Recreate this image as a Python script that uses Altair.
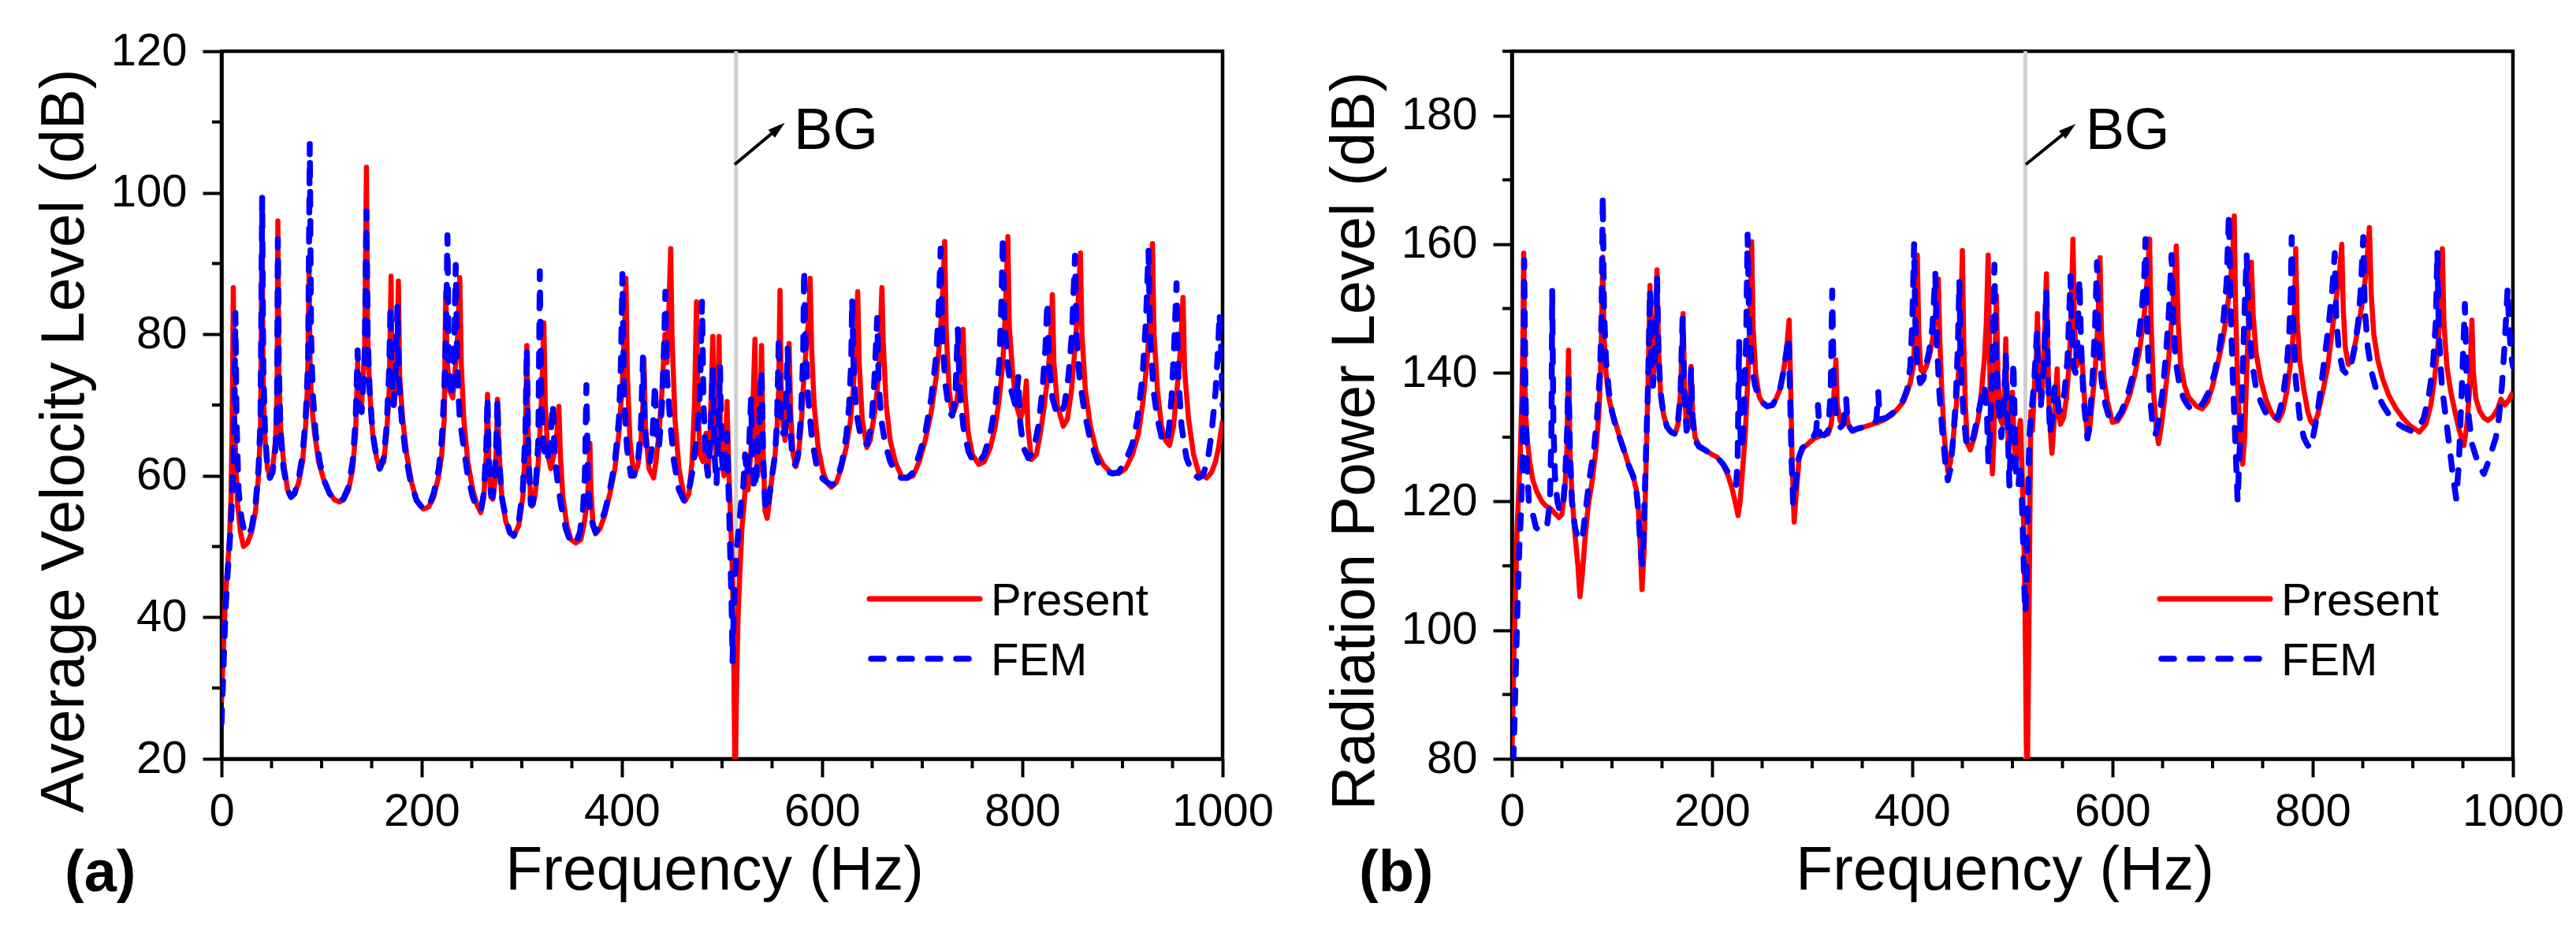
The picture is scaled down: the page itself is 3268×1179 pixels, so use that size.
import altair as alt
import pandas as pd

# ---------------- data ----------------
# Panel (a): average velocity level (dB) vs frequency (Hz)
A_PRESENT = [
    (0, 28), (2, 36), (4, 43), (6, 47), (8, 51), (9.5, 57), (10.5, 66), (11.8, 86.6), (12.8, 70),
    (14, 63), (16, 56), (19, 52), (22, 50), (26, 50.5), (30, 52), (34, 55), (37, 60), (39, 67),
    (40.5, 97), (41.5, 75), (43, 66), (46, 61), (48.4, 60), (51, 61), (54, 65), (55.5, 72),
    (56.3, 96), (57.3, 75), (59, 67), (62, 62), (66, 58), (69.4, 57), (73, 57.5), (77, 59),
    (81, 62), (84, 67), (86, 73), (87.5, 89), (88.5, 76), (90, 70), (93, 66), (97, 62),
    (102, 59.5), (108, 57.5), (113, 56.6), (117.8, 56.3), (122, 56.6), (127, 58), (131, 61),
    (134, 66), (136, 76), (137, 70), (140, 70), (143, 78), (144.8, 103.6), (146, 80), (148, 72),
    (151, 66), (155, 62.5), (158, 61), (162, 62), (165, 66), (167.5, 72), (169.4, 88.2),
    (170.5, 72), (172.5, 70), (175, 74), (176.7, 87.5), (178, 74), (181, 68), (185, 63),
    (190, 59), (195, 56.5), (201.6, 55.3), (207, 55.6), (212, 57), (217, 60), (220, 63),
    (222.5, 68), (224, 86), (225.5, 76), (228, 72), (231, 71), (234, 76), (236, 80), (238, 88),
    (239.5, 76), (242, 68), (246, 62), (251, 58), (255, 56), (259, 54.8), (262, 57), (264.5, 63),
    (265.7, 71.5), (267, 62), (269, 57), (271, 56.7), (273, 59), (274.8, 65), (275.7, 70.8),
    (277, 64), (280, 57), (284, 53.5), (288, 52), (292, 51.5), (297, 53), (301, 57), (303.5, 64),
    (305, 78.4), (306.5, 64), (309, 56), (310, 55.7), (313, 57), (316, 61), (318, 66), (320, 72),
    (322, 81.6), (323.5, 70), (326, 63), (329, 61), (332, 63), (335, 66), (337, 69.8),
    (338.5, 63), (341, 57), (345, 53), (349, 51), (354, 50.5), (359, 51), (362, 53), (365, 56),
    (367, 60), (368, 64.6), (369, 58), (371, 53.5), (373.7, 51.8), (378, 52.5), (383, 54.5),
    (388, 57.5), (393, 61), (397, 66), (400, 72), (402.5, 80), (404, 87.9), (405.5, 74),
    (408, 65), (412, 60), (416, 61.5), (419, 65), (421, 70), (422, 76.4), (423.5, 67), (427, 61),
    (431.6, 59.7), (434, 62), (437, 66), (440, 72), (443, 80), (445, 76), (447, 84),
    (448.7, 92.1), (450, 80), (453, 68), (457, 61), (463, 56.4), (467, 57.5), (470, 62),
    (472.5, 70), (474.5, 84.6), (476, 70), (478, 63), (481, 62), (484, 66), (486, 60), (488, 66),
    (490.8, 79.7), (492.5, 66), (494, 63), (495.5, 68), (497, 79.7), (498.5, 65), (500, 62),
    (502, 60), (504, 66), (505, 70.5), (506.5, 62), (508, 56), (510, 48), (511.5, 38), (513, 15),
    (514.5, 30), (516, 40), (518, 47), (520, 52.8), (522, 56), (524, 60), (526, 58), (528, 62),
    (530, 66), (532.9, 79.3), (534, 66), (535.5, 60), (537, 62), (539.5, 78.4), (541, 64),
    (543, 55), (545, 54), (547, 56), (550, 60), (553, 63), (555, 67), (556.5, 72), (557.9, 86.2),
    (559, 73), (561, 67), (563, 65), (565, 68), (567, 78.7), (568.5, 69), (571, 63),
    (573.7, 61.3), (576, 62.5), (579, 67), (581, 72), (583, 76), (585, 80), (586.5, 82),
    (588, 87.9), (589.5, 78), (592, 70), (596, 64), (601, 60.5), (605, 59), (609, 58.4),
    (614, 59), (619, 61), (624, 64), (628, 67.5), (631, 72), (633.5, 78), (635.5, 86), (637, 76),
    (640, 68), (644.7, 64), (648, 65), (652, 68.5), (655, 72), (657.5, 77), (659.7, 86.6),
    (661, 79), (664, 70), (668, 65), (673, 62), (679, 60), (685.5, 59.7), (691, 60), (697, 62),
    (703, 65), (709, 69), (714, 74), (718, 80), (720.5, 86), (722.4, 93.1), (724, 80), (727, 72),
    (730, 68.5), (734, 70), (737.5, 74), (740.8, 80.7), (742.5, 72), (746, 66), (750, 63),
    (756.6, 61.6), (762, 62), (768, 64), (773, 67), (777, 71), (780.5, 76), (783, 83),
    (785.5, 93.8), (787, 81), (790, 75), (794, 70), (798, 68), (802, 70), (804, 73.4),
    (805.5, 67), (809, 62.3), (814, 63), (818, 66), (822, 70), (826, 75), (828.5, 80),
    (830, 85.6), (831.5, 76), (835, 70), (840.8, 67), (845, 68), (849, 72), (852.5, 78),
    (855.5, 84), (858, 91.5), (859.5, 80), (863, 72), (868, 67), (874, 63.5), (881, 61.5),
    (888, 60.5), (896, 60.3), (903, 61), (910, 63), (916, 66), (921, 71), (925, 77), (928, 84),
    (930, 92.8), (931.5, 80), (935, 72), (939, 67), (943, 65), (947, 64.3), (951, 67), (955, 73),
    (958, 78), (960.5, 85.2), (962, 75), (966, 68), (971, 63), (976, 60.5), (984, 59.7),
    (989, 60.5), (993, 62), (996, 64), (1000, 67.8),
]

A_FEM = [
    (0, 25), (2, 33), (4, 41), (6, 46), (8, 50), (10, 55), (12, 62), (13, 70), (13.9, 83),
    (15, 68), (17, 58), (20, 54), (23, 52), (26, 51.5), (30, 52.5), (34, 56), (37, 61), (39, 68),
    (40.6, 99.3), (41.8, 75), (43.5, 66), (46, 61), (48.4, 59.7), (51, 60.5), (54, 64),
    (55.5, 70), (56.3, 93.4), (57.3, 75), (59, 66), (62, 61), (66, 58), (69.4, 57), (73, 57.5),
    (77, 59.5), (81, 63), (84, 68), (86.5, 76), (88.2, 106.9), (89.5, 80), (91, 72), (94, 66),
    (98, 62), (102, 59.5), (108, 57.5), (113, 56.6), (117.8, 56.3), (122, 56.8), (127, 58.5),
    (131, 62), (134, 68), (136, 77.7), (137.5, 70), (140, 69), (143, 76), (144.8, 97.4),
    (146, 80), (148, 72), (151, 66), (155, 62.5), (158, 61), (162, 62.5), (165, 67),
    (167.5, 75), (168.8, 84), (170, 74), (172, 70), (174, 75), (175.8, 84), (177, 74), (180, 68),
    (184, 63), (189, 59), (195, 56.5), (201.6, 55.3), (207, 55.6), (212, 57.5), (217, 61),
    (220, 65), (222.5, 72), (224.5, 82), (225.7, 94), (227, 76), (229.5, 71), (232, 75),
    (234, 89.8), (235.5, 75), (238, 68), (242, 64), (246, 60), (251, 57), (255, 55.5), (259, 55),
    (262, 57.5), (264.5, 64), (265.7, 71.1), (267, 62), (269, 57.5), (271, 57), (273, 60),
    (274.8, 66), (275.7, 70.8), (277, 63), (280, 57), (284, 54), (288, 52), (292, 51.5),
    (297, 53.5), (301, 58), (303.5, 66), (305, 78), (306.5, 63), (309, 56), (311, 56), (314, 59),
    (316.5, 65), (318, 88.9), (319.5, 70), (322, 64), (325, 62), (328, 64), (331, 70.2),
    (332.5, 64), (335, 60), (339, 56), (344, 52.5), (349, 50.5), (354, 50.5), (358, 52),
    (361, 55), (363, 60), (364.5, 72.8), (366, 60), (368, 55), (371, 53), (373.7, 52), (378, 53),
    (383, 55), (388, 58), (393, 62), (397, 68), (399, 76), (400.5, 88.5), (402, 72), (405, 64),
    (409, 60), (412, 60), (416, 62), (419, 67), (421, 76.7), (422.5, 68), (425, 63), (428, 62),
    (430, 64), (433, 73), (434.5, 66), (437, 64), (440, 70), (442, 78), (443.4, 86), (445, 74),
    (448, 68), (452, 62), (457, 58), (462, 56.5), (467, 58), (471, 61), (475, 66), (478, 72),
    (480, 84.6), (481.5, 70), (484, 62), (486, 60), (488, 64), (490.8, 75), (492.5, 63),
    (494.5, 58.7), (496, 65), (498, 75.4), (499.5, 64), (501, 60), (503, 62), (505, 66),
    (506.5, 58), (508, 50), (509.5, 42), (510.5, 33.8), (511.5, 40), (513, 46), (515, 50),
    (517, 53), (519, 56), (521, 58), (523, 63), (525, 60), (527, 64), (529, 71), (530.5, 62),
    (532, 58), (534, 60), (536, 64), (539.5, 75), (541, 63), (543, 56), (545, 55), (547, 57),
    (550, 60), (553, 63), (555, 68), (556.7, 79.7), (558, 70), (561, 66), (563, 66),
    (565.5, 78), (567, 70), (570, 63), (573, 61.5), (576, 63), (579, 69), (581, 77),
    (582, 89.2), (583.5, 78), (586, 71), (590, 65), (595, 61), (601, 59.5), (606, 59),
    (610, 58.7), (615, 59.5), (620, 62), (624, 65.5), (627, 70), (629, 76), (630, 85),
    (631.5, 75), (634, 69), (638, 66), (642, 64.5), (645, 64.5), (649, 67), (652, 73),
    (655, 82.3), (656.5, 73), (659, 68), (663, 64.5), (668, 62), (673, 60.5), (679, 59.7),
    (685, 59.7), (691, 60.5), (697, 63), (703, 66), (709, 71), (714, 77), (716.5, 84),
    (718.4, 92.1), (720, 80), (723, 73), (727, 69), (730, 68.5), (733, 71), (735.5, 80.7),
    (737.5, 72), (741, 67), (746, 63.5), (751, 62), (756, 61.8), (762, 63), (768, 66), (773, 70),
    (777, 76), (779, 84), (780.5, 93.8), (782, 82), (785, 76), (789, 72), (793, 70), (796, 74),
    (797.5, 68), (801, 64), (806, 62.5), (811, 63.5), (816, 67), (820, 72), (823, 78),
    (825, 84.6), (826.5, 76), (830, 71), (834, 69), (838, 68.5), (842, 70), (846, 74),
    (849.5, 80), (852.6, 91.1), (854, 80), (857, 74), (862, 69), (868, 65), (875, 62),
    (883, 60.7), (890, 60.3), (896, 60.5), (903, 62), (910, 64.5), (915, 68), (920, 74),
    (923.5, 82), (926, 91.8), (927.5, 80), (931, 72), (935, 68), (939, 65.5), (943, 64.6),
    (946, 66), (949, 71), (951.5, 78), (954, 87.2), (955.5, 75), (959, 67), (964, 62.5),
    (970, 60.3), (976, 59.7), (980, 60), (985, 62), (989, 66), (993, 72), (995.5, 78), (997, 83),
    (998.5, 78), (1000, 70),
]

# Panel (b): radiation power level (dB) vs frequency (Hz)
B_PRESENT = [
    (0, 80), (1, 88), (2, 96), (3.5, 105), (5.3, 116), (7, 122), (8.5, 128), (10, 136), (11, 145),
    (11.8, 158.6), (12.8, 140), (14, 133), (15.8, 129), (18, 126), (21, 123.3), (25, 121.5),
    (30, 120), (34, 119.3), (38, 119), (41, 118.5), (44, 118), (47, 117.5), (50, 118), (53, 122),
    (55, 128), (56.6, 143.5), (58, 128), (60, 121), (63, 115), (66, 110), (68, 105.2), (70, 108),
    (73, 114), (76, 119), (80, 123), (84, 128), (87, 134), (89, 142), (90.8, 158), (92, 146),
    (94, 140), (97, 136), (100, 134), (104, 132), (108, 129.8), (113, 127.5), (117, 125.5),
    (121, 124), (124, 122), (126, 119.7), (128, 114), (130, 106.3), (132, 112), (134, 125),
    (136, 138), (138, 153.6), (139.5, 142), (141, 139), (143, 143), (145, 156), (146.5, 144),
    (148.5, 137), (151.5, 133.5), (155, 131.6), (159, 130.8), (163, 130.5), (166, 132),
    (168.5, 137), (171, 149.2), (172.5, 138), (174.5, 131), (176.5, 132), (178, 136), (179, 141),
    (180.5, 134), (183, 130), (187, 128.7), (193, 128), (200, 127.3), (205, 126.9),
    (211, 125.8), (216, 124), (220, 122), (223, 120), (226, 117.8), (228, 120), (230, 124),
    (233, 130), (236, 140), (238, 150), (239.5, 160.4), (241, 147), (243.5, 140), (247, 136.3),
    (251, 135.2), (255, 134.8), (260.5, 135), (264, 136), (268, 137.5), (271, 140), (274, 143),
    (277, 148.2), (278.5, 138), (280, 126), (282, 116.8), (284, 121), (287, 126.9),
    (291, 128.3), (296, 129), (302, 129.8), (308, 130.2), (316, 130.5), (319, 132),
    (321.5, 136), (323.7, 142), (325, 135), (328, 132.5), (331, 132), (334, 134), (336, 132),
    (340, 131), (345, 131.3), (352, 131.6), (360, 132), (366, 132.3), (372, 132.7),
    (380, 133.5), (386, 134.5), (391, 135.5), (395, 137), (398, 138.5), (401, 141), (403, 147),
    (405, 158.3), (406.5, 146), (408.5, 140.5), (411, 140), (414, 141), (417, 142.5), (420, 145),
    (422.5, 148), (424.5, 151), (426, 154.6), (427.5, 145), (429.5, 137), (432, 130),
    (435.5, 124.7), (438, 126), (441, 130), (444, 135), (446.5, 141), (448.5, 148), (450, 159),
    (451.5, 144), (453, 135), (455, 129), (458, 128), (462, 130), (466, 133), (469, 137),
    (472, 142), (474, 148), (475.8, 158.3), (477, 145), (478.5, 130), (480, 124.3),
    (481.5, 130), (483, 145), (484, 152), (485.5, 140), (487.5, 133), (490, 132), (492, 137),
    (493.4, 145.3), (494.5, 136), (496, 128), (498, 130), (500, 137), (501.5, 130), (503, 126),
    (505, 127), (506.5, 131), (508, 132.6), (509.5, 125), (511, 118), (512.5, 105), (514, 82),
    (515, 78), (516.5, 100), (518.4, 134), (520, 131), (522, 138), (524, 143), (525, 149.2),
    (526.5, 140), (528, 136), (530, 138), (532, 145), (534, 155.4), (535.5, 142), (537, 133),
    (539.5, 127.5), (541.5, 132), (543, 136), (544.7, 140.6), (546, 134), (548, 132),
    (551, 133), (554, 136), (556.5, 141), (558.5, 148), (560.5, 160.8), (562, 148), (564, 141),
    (566, 142), (568, 144), (570, 141), (572, 136), (575, 129.8), (577, 131), (580, 136),
    (583, 141), (585.5, 148), (587.5, 157.9), (589, 146), (591.5, 139), (595, 135.5),
    (600, 132.3), (605, 132.5), (611, 134), (617, 136.5), (622, 139.5), (627, 143.5), (631, 148),
    (634, 153), (637, 160.8), (638.5, 148), (641, 137), (644, 131), (646, 129), (649, 132),
    (652, 136), (655.5, 141), (659, 148), (661.5, 153), (663.7, 159.7), (665.5, 148),
    (668, 141.3), (672, 138), (676, 136.2), (680, 135.5), (684, 134.8), (689.5, 134.4),
    (695, 135.5), (700, 138), (705, 141.3), (710, 145), (714, 149), (717.5, 154), (720, 158),
    (721.6, 164.4), (723, 150), (725, 138), (727.5, 130), (730, 125.8), (732, 130), (734, 140),
    (736.5, 150), (738.7, 157.2), (740.5, 149), (743.5, 143), (748, 139), (753, 136), (758, 134),
    (762, 133), (765.8, 132.6), (770, 134), (774, 137), (777, 140.5), (780, 145), (782, 150.5),
    (783, 159.3), (784.5, 148), (787, 142), (791, 137.5), (795, 134), (798, 132.5),
    (801, 131.9), (805, 133.5), (810, 137), (815, 141), (819, 146), (823, 151), (826.5, 155),
    (829, 160), (830.5, 150), (832.5, 144), (835.5, 141.3), (839, 142), (843, 145),
    (847, 148.5), (851, 152.5), (854, 157), (856.6, 162.6), (858.5, 152), (861, 146), (865, 142),
    (870, 139), (876, 136.5), (883, 134.5), (890, 133), (897, 131.8), (906.6, 130.8), (913, 132),
    (918, 135), (922, 139.5), (925.5, 145), (928, 152), (929.5, 159.3), (931, 148), (934, 141),
    (938, 137), (942, 134), (946.5, 131), (951, 128.7), (954, 132), (956.5, 137), (959, 148.2),
    (960.5, 140), (963, 136), (967, 134), (971, 133), (975, 132.6), (980, 133.2), (985, 134.5),
    (988, 135.9), (992, 135), (996, 135.8), (1000, 137),
]

B_FEM = [
    (0, 75), (1.5, 80), (3, 88), (4.5, 97), (6, 106), (7.5, 113), (9, 118), (10.5, 125),
    (11.5, 140), (12.3, 157.5), (13.5, 138), (15, 126), (17, 120), (19, 118.5), (21, 118),
    (24, 116), (27, 115.5), (31, 115.6), (35, 116), (38, 120), (39.5, 130), (40.3, 152.8),
    (41.5, 132), (43, 124), (45.5, 120), (48, 118.5), (51, 119), (53, 123), (55, 130),
    (56.6, 139), (58, 128), (60, 120), (63, 116), (66, 114.2), (68.4, 113.9), (71, 115),
    (74, 119), (78, 124), (82, 128), (85, 133), (88, 140), (89.5, 148), (90.8, 167.6), (92, 150),
    (94, 142), (97, 137), (100, 134), (104, 131.5), (108, 129.8), (113, 127.5), (117, 125.5),
    (121, 124), (124, 122.5), (126.5, 118), (128.5, 113), (130, 110.3), (131.5, 114),
    (133.5, 125), (136, 138), (138, 153), (139.5, 141), (141, 138), (143, 143), (145, 155),
    (146.5, 143), (148.5, 137), (151.5, 133.5), (155, 131.6), (159, 130.8), (163, 130.5),
    (166, 132.5), (168.5, 137), (170.5, 148.5), (172, 138), (174.5, 131), (176.5, 132),
    (178, 136), (179, 140.5), (180.5, 133), (183, 129.5), (187, 128.5), (193, 128),
    (200, 127.3), (205, 126.9), (211, 125.8), (216, 124.5), (220, 123.5), (224, 122.6),
    (225.5, 126), (227, 145), (228.5, 130), (230, 128), (232, 134), (234, 145), (235.5, 161.5),
    (237, 148), (239.5, 141), (243, 138), (247, 136), (251, 135.3), (255, 134.8), (260.5, 135),
    (264, 136), (268, 137.5), (271, 140), (273.5, 142.5), (276.5, 145.6), (278, 136),
    (279.5, 126), (281, 119.7), (283, 122), (286, 126.5), (290, 128.3), (295, 129),
    (300, 129.6), (304, 131), (305.8, 135), (307.5, 130.5), (312, 130.3), (316, 131),
    (318.5, 137), (320, 152.8), (321.5, 138), (324, 133), (328, 131.5), (331, 132),
    (334, 135.9), (335.5, 132), (340, 131), (345, 131.3), (352, 131.6), (360, 132.1),
    (364, 132.5), (366, 137), (367.5, 132.8), (374, 133), (380, 133.7), (386, 134.7),
    (391, 135.8), (395, 137.5), (398, 141), (400, 148), (401.8, 160), (403, 148), (405, 141),
    (408, 138.4), (411, 139), (414, 141.3), (417, 143.5), (420, 147), (421.5, 151),
    (423, 155.4), (424.5, 145), (427, 137), (430, 131), (433, 126), (435.5, 123.3), (438, 125),
    (441, 130), (443.5, 136), (445.5, 144), (447, 154.3), (448.5, 141), (451, 134), (454, 129),
    (457, 128.5), (461, 130), (465, 133), (469, 136), (472, 138), (474.5, 134), (476, 126.1),
    (478, 132), (480, 142), (482, 156.8), (483.5, 143), (486, 135), (489, 130), (491.5, 135),
    (493.4, 142.7), (495, 133), (497, 122.5), (499, 132), (501, 141.7), (502.5, 131), (504, 123),
    (506, 122.5), (508, 126), (509.5, 120), (511, 112), (512, 106), (513, 102.7), (514, 108),
    (515.5, 120), (517, 130), (519, 134), (521.5, 138), (523, 142), (524.5, 146.3), (526, 138),
    (528.5, 135), (531, 140), (534, 152.8), (535.5, 140), (537.5, 130.5), (540, 133),
    (542.5, 138), (544.5, 137), (546.5, 134), (549, 134.5), (552, 137), (555, 142),
    (556.5, 148), (558, 155), (559.5, 146), (561, 141), (563, 140), (565, 145), (567, 154.6),
    (568.5, 145), (571, 136), (575, 129.8), (577, 132), (580, 139), (582.5, 147), (584.5, 157.2),
    (586, 146), (589, 139), (593, 135), (598, 132.3), (603, 132.5), (609, 134), (615, 136.5),
    (620, 139.5), (625, 144), (629, 149.5), (631.5, 154), (633, 160.8), (634.5, 148), (637, 137),
    (640, 132), (643, 130.5), (646, 132.5), (650, 137), (653.5, 143), (656.5, 150), (659, 158.3),
    (660.5, 149), (663, 142), (667, 138), (671, 136), (675, 135), (679, 134.2), (684, 134.4),
    (690, 135.2), (696, 137), (702, 140), (707, 144), (711, 148.5), (714, 154), (716.3, 164.7),
    (718, 150), (720, 140), (722.5, 130), (725, 120), (727, 128), (730, 140), (732, 150),
    (734, 158.3), (736, 149), (739, 142), (743, 138), (748, 135.5), (753, 133.8), (758, 133),
    (762, 132.6), (766, 133.5), (770, 136), (773.5, 140), (776.5, 146), (778, 152), (779, 161.1),
    (780.5, 148), (783, 139), (787, 133), (791, 130), (794, 129), (797, 128.3), (800, 129.8),
    (804, 133), (808, 137.5), (812, 142.5), (816, 147.5), (819.5, 153), (822, 158.6),
    (823.5, 149), (826, 143.5), (830, 140.5), (834, 139.8), (838, 141), (842, 144),
    (845.5, 148), (848, 153), (850.5, 161.1), (852, 150), (855, 144), (859, 140), (864, 137),
    (870, 135), (877, 133.3), (884, 132.2), (891, 131.5), (898, 131), (905, 131.2), (911, 133),
    (916, 136.5), (920, 141), (923, 148), (924.5, 159), (926, 146), (929, 138), (933, 133),
    (937, 128), (940, 124), (943.4, 120.4), (946, 126), (949, 138), (952, 150.7), (953.5, 140),
    (956, 133), (959, 129), (962, 127.5), (966, 125.5), (971, 124.3), (975, 126), (979, 128),
    (983, 130), (986, 133), (989, 138), (991.5, 144), (993.5, 149.5), (994.7, 153.2), (996, 148),
    (998, 143), (1000, 141),
]

SERIES = ["Present", "FEM"]
PANEL_LABELS = ["(a)", "(b)"]
Y_TITLES = ["Average Velocity Level (dB)", "Radiation Power Level (dB)"]
X_TITLE = "Frequency (Hz)"
BG_TEXT = "BG"

X_DOMAIN = [0, 1000]
X_MAJOR = [0, 200, 400, 600, 800, 1000]
X_MINOR = [50, 100, 150, 250, 300, 350, 450, 500, 550, 650, 700, 750, 850, 900, 950]

A_Y_DOMAIN = [20, 120]
A_Y_MAJOR = [20, 40, 60, 80, 100, 120]
A_Y_MINOR = [30, 50, 70, 90, 110]
B_Y_DOMAIN = [80, 190]
B_Y_MAJOR = [80, 100, 120, 140, 160, 180]
B_Y_MINOR = [90, 110, 130, 150, 170, 190]

# band-gap marker: line position, arrow tail / shaft end / tip, label anchor
A_BG = {"line": 514, "tail": (512.6, 104.0), "shaft": (555.0, 109.0), "tip": (562.8, 109.9),
        "text": (571.7, 106.2)}
B_BG = {"line": 513, "tail": (513.4, 172.4), "shaft": (555.5, 177.7), "tip": (563.2, 178.7),
        "text": (573.0, 174.8)}

# ---------------- styling ----------------
W, H = 1270, 898
FONT = "Liberation Sans"
RED = "#ff0000"
BLUE = "#0000ff"
ARROW_HEAD = "M0,0L-1,-0.3L-1,0.3Z"


def panel(present, fem, ydom, ymajor, yminor, ytitle, bg, label, head_angle, label_x):
    xs = alt.Scale(domain=X_DOMAIN, nice=False, zero=False)
    ys = alt.Scale(domain=ydom, nice=False, zero=False)

    xaxis = alt.Axis(values=X_MAJOR, format="d", title=X_TITLE, tickSize=23, labelPadding=15,
                     titleX=625, titleY=165, titleBaseline="alphabetic", titleAlign="center")
    yaxis = alt.Axis(values=ymajor, format="d", title=ytitle, tickSize=24, labelPadding=20,
                     titleX=-176, titleY=494, titleBaseline="alphabetic", titleAlign="center",
                     titleAngle=270)

    def X(field="f"):
        return alt.X(f"{field}:Q", scale=xs, axis=xaxis, title=X_TITLE)

    def Y(field="L"):
        return alt.Y(f"{field}:Q", scale=ys, axis=yaxis, title=ytitle)

    df_p = pd.DataFrame(present, columns=["f", "L"])
    df_f = pd.DataFrame(fem, columns=["f", "L"])

    bg_line = alt.Chart(pd.DataFrame({"f": [bg["line"]]})).mark_rule(
        color="#d0d0d0", strokeWidth=5).encode(x=X(), y=alt.value(0), y2=alt.value(H))

    red = alt.Chart(df_p).mark_line(color=RED, strokeWidth=6.5, clip=True,
                                    strokeJoin="round").encode(x=X(), y=Y())
    blue = alt.Chart(df_f).mark_line(color=BLUE, strokeWidth=7.5, clip=True, strokeDash=[17, 20],
                                     strokeCap="round", strokeJoin="round").encode(x=X(), y=Y())

    shaft = alt.Chart(pd.DataFrame({"f": [bg["tail"][0]], "L": [bg["tail"][1]],
                                    "f2": [bg["shaft"][0]], "L2": [bg["shaft"][1]]})).mark_rule(
        color="black", strokeWidth=4).encode(x=X(), y=Y(), x2="f2:Q", y2="L2:Q")
    head = alt.Chart(pd.DataFrame({"f": [bg["tip"][0]], "L": [bg["tip"][1]]})).mark_point(
        shape=ARROW_HEAD, size=1936, angle=head_angle, filled=True, color="black",
        opacity=1, strokeWidth=0).encode(x=X(), y=Y())
    bgtext = alt.Chart(pd.DataFrame({"f": [bg["text"][0]], "L": [bg["text"][1]],
                                     "t": [BG_TEXT]})).mark_text(
        font=FONT, fontSize=74, align="left", baseline="alphabetic", color="black").encode(
        x=X(), y=Y(), text="t:N")

    xminor = alt.Chart(pd.DataFrame({"f": X_MINOR})).mark_rule(
        color="black", strokeWidth=4).encode(x=X(), y=alt.value(H), y2=alt.value(H + 12))
    yminor_r = alt.Chart(pd.DataFrame({"L": yminor})).mark_rule(
        color="black", strokeWidth=4).encode(y=Y(), x=alt.value(0), x2=alt.value(-12))

    # legend (manual, drawn as in the reference)
    leg_red = alt.Chart(pd.DataFrame({"s": [SERIES[0]]})).mark_rule(
        color=RED, strokeWidth=7, strokeCap="round").encode(
        x=alt.value(822), x2=alt.value(962), y=alt.value(695))
    leg_blue = alt.Chart(pd.DataFrame({"s": [SERIES[1]]})).mark_rule(
        color=BLUE, strokeWidth=7.5, strokeCap="round", strokeDash=[16, 20]).encode(
        x=alt.value(824), x2=alt.value(964), y=alt.value(771))
    leg_t1 = alt.Chart(pd.DataFrame({"s": [SERIES[0]]})).mark_text(
        font=FONT, fontSize=58, align="left", baseline="alphabetic", color="black").encode(
        x=alt.value(976), y=alt.value(716), text="s:N")
    leg_t2 = alt.Chart(pd.DataFrame({"s": [SERIES[1]]})).mark_text(
        font=FONT, fontSize=58, align="left", baseline="alphabetic", color="black").encode(
        x=alt.value(976), y=alt.value(792), text="s:N")

    lab = alt.Chart(pd.DataFrame({"s": [label]})).mark_text(
        font=FONT, fontSize=74, fontWeight="bold", align="left", baseline="alphabetic",
        color="black").encode(x=alt.value(label_x), y=alt.value(1066), text="s:N")

    return alt.layer(bg_line, red, blue, shaft, head, bgtext, xminor, yminor_r,
                     leg_red, leg_blue, leg_t1, leg_t2, lab).properties(width=W, height=H)


pa = panel(A_PRESENT, A_FEM, A_Y_DOMAIN, A_Y_MAJOR, A_Y_MINOR, Y_TITLES[0], A_BG,
           PANEL_LABELS[0], 320.3, -199)
pb = panel(B_PRESENT, B_FEM, B_Y_DOMAIN, B_Y_MAJOR, B_Y_MINOR, Y_TITLES[1], B_BG,
           PANEL_LABELS[1], 320.9, -194)

chart = alt.hconcat(pa, pb, spacing=367, bounds="flush").properties(
    padding={"left": 32, "top": 25, "right": 5, "bottom": 5},
    background="white",
).configure_view(
    stroke="black", strokeWidth=4.5, fill="white"
).configure_axis(
    labelFont=FONT, labelFontSize=58, labelColor="black",
    titleFont=FONT, titleFontSize=77, titleFontWeight="normal", titleColor="black",
    domainColor="black", domainWidth=4.5, tickColor="black", tickWidth=4,
    grid=False, labelFlush=False, labelOverlap=False
)

chart.save("out.html", embed_options={"renderer": "svg", "actions": False})
